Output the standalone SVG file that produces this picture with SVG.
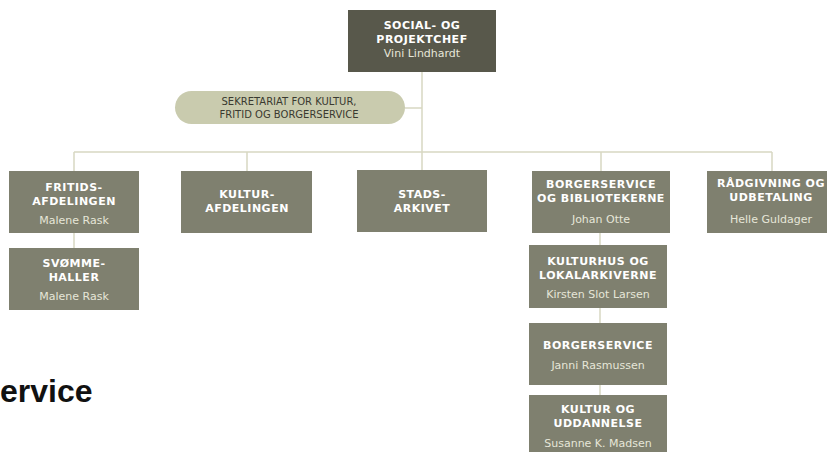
<svg xmlns="http://www.w3.org/2000/svg" width="827" height="452" viewBox="0 0 827 452">
<style>
.box{fill:#7f806f}
.top{fill:#58584b}
.pill{fill:#c9cbae}
.h{font-family:"DejaVu Sans",Verdana,sans-serif;font-size:11px;font-weight:bold;fill:#ffffff;text-anchor:middle;letter-spacing:0.5px}
.n{font-family:"DejaVu Sans",Verdana,sans-serif;font-size:11px;fill:#e6e6d8;text-anchor:middle}
.s{font-family:"DejaVu Sans",Verdana,sans-serif;font-size:10px;fill:#3a3a30;text-anchor:middle}
.ln{stroke:#d8d8c2;stroke-width:1.5;fill:none}
</style>
<rect width="827" height="452" fill="#ffffff"/>
<g id="connectors" class="ln">
<path d="M422 72V152M74 152H772M74 152V171M247 152V171M422 152V170M601 152V171M772 152V171M405 108H422M74 233V248M600 233V245M600 308V323M600 385V395"/>
</g>
<g id="chef">
<rect class="top" x="348" y="10" width="148" height="62"/>
<text class="h" x="422" y="29">SOCIAL- OG</text>
<text class="h" x="422" y="43">PROJEKTCHEF</text>
<text class="n" x="422" y="57">Vini Lindhardt</text>
</g>
<g id="sekretariat">
<rect class="pill" x="175" y="91" width="230" height="33" rx="16.5"/>
<text class="s" x="289" y="105">SEKRETARIAT FOR KULTUR,</text>
<text class="s" x="289" y="118">FRITID OG BORGERSERVICE</text>
</g>
<g id="fritid">
<rect class="box" x="9" y="171" width="130" height="62"/>
<text class="h" x="74" y="191">FRITIDS-</text>
<text class="h" x="74" y="205">AFDELINGEN</text>
<text class="n" x="74" y="224">Malene Rask</text>
</g>
<g id="kultur">
<rect class="box" x="181" y="171" width="131" height="62"/>
<text class="h" x="247" y="198">KULTUR-</text>
<text class="h" x="247" y="212">AFDELINGEN</text>
</g>
<g id="stadsarkiv">
<rect class="box" x="357" y="170" width="130" height="62"/>
<text class="h" x="422" y="198">STADS-</text>
<text class="h" x="422" y="212">ARKIVET</text>
</g>
<g id="borgerservice-bibliotek">
<rect class="box" x="532" y="171" width="138" height="62"/>
<text class="h" x="601" y="188">BORGERSERVICE</text>
<text class="h" x="601" y="202">OG BIBLIOTEKERNE</text>
<text class="n" x="601" y="223">Johan Otte</text>
</g>
<g id="raadgivning">
<rect class="box" x="707" y="171" width="130" height="62"/>
<text class="h" x="771" y="187">RÅDGIVNING OG</text>
<text class="h" x="771" y="201">UDBETALING</text>
<text class="n" x="771" y="223">Helle Guldager</text>
</g>
<g id="svoemmehaller">
<rect class="box" x="9" y="248" width="130" height="62"/>
<text class="h" x="74" y="267">SVØMME-</text>
<text class="h" x="74" y="281">HALLER</text>
<text class="n" x="74" y="300">Malene Rask</text>
</g>
<g id="kulturhuse">
<rect class="box" x="529" y="245" width="138" height="63"/>
<text class="h" x="598" y="265">KULTURHUS OG</text>
<text class="h" x="598" y="279">LOKALARKIVERNE</text>
<text class="n" x="598" y="298">Kirsten Slot Larsen</text>
</g>
<g id="borgerservice">
<rect class="box" x="529" y="323" width="138" height="62"/>
<text class="h" x="598" y="349">BORGERSERVICE</text>
<text class="n" x="598" y="369">Janni Rasmussen</text>
</g>
<g id="kultur-uddannelse">
<rect class="box" x="529" y="395" width="138" height="62"/>
<text class="h" x="598" y="413">KULTUR OG</text>
<text class="h" x="598" y="427">UDDANNELSE</text>
<text class="n" x="598" y="447">Susanne K. Madsen</text>
</g>
<text x="0" y="402" font-family="'Liberation Sans',Arial,sans-serif" font-size="32" font-weight="bold" fill="#111111">ervice</text>
</svg>
